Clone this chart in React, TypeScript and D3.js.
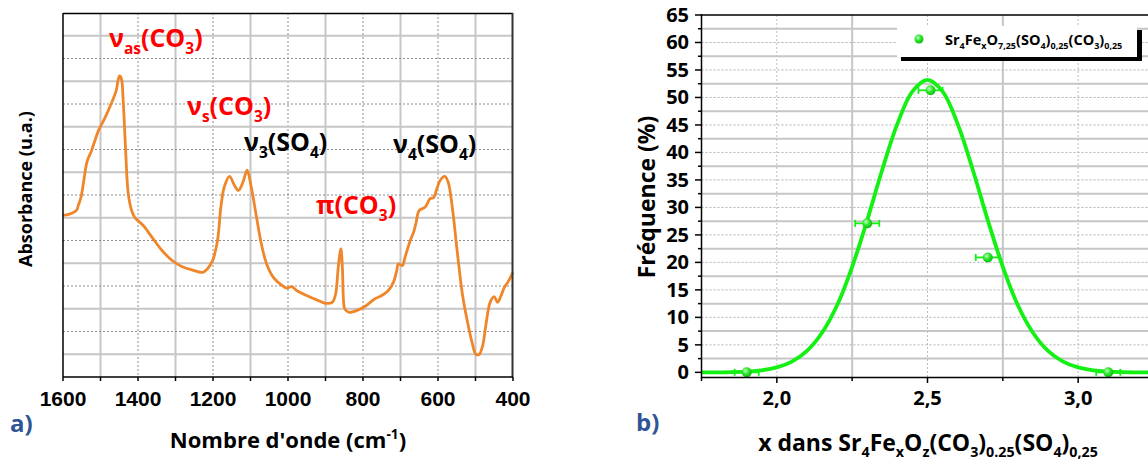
import React from "react";
import * as d3 from "d3";

// ---------- Panel a) : IR spectrum ----------
const specWavenumber = [
  1600, 1579, 1563, 1560, 1552, 1543, 1536, 1525, 1516, 1505, 1498, 1485, 1471, 1458, 1453, 1449, 1444, 1440,
  1433, 1426, 1417, 1408, 1386, 1363, 1336, 1309, 1282, 1255, 1228, 1215, 1201, 1188, 1179, 1170, 1156, 1143,
  1132, 1120, 1109, 1098, 1084, 1071, 1057, 1039, 1021, 1003, 990, 976, 949, 922, 900, 882, 873, 866, 859, 855,
  850, 846, 837, 814, 792, 769, 751, 733, 719, 710, 706, 695, 688, 674, 665, 659, 650, 634, 621, 612, 603, 594,
  582, 573, 562, 549, 535, 522, 508, 499, 490, 481, 472, 461, 450, 441, 432, 423, 414, 400,
];
const specAbsorbance = [
  7.1, 7.18, 7.35, 7.5, 7.9, 8.8, 9.46, 9.9, 10.34, 10.85, 11.07, 11.5, 12.03, 12.6, 13.06, 13.24, 13.1, 12.3,
  9.97, 8.06, 7.32, 7.0, 6.66, 6.15, 5.56, 5.12, 4.85, 4.7, 4.6, 4.75, 5.12, 6.0, 7.47, 8.35, 8.82, 8.43,
  8.2, 8.57, 9.09, 8.35, 7.03, 5.85, 4.97, 4.38, 4.09, 3.91, 3.97, 3.79, 3.57, 3.38, 3.24, 3.28, 3.65, 4.82, 5.63, 4.82,
  3.06, 2.94, 2.84, 2.94, 3.13, 3.43, 3.57, 3.79, 4.16, 4.68, 4.97, 4.9, 5.26, 6.0, 6.37, 6.74, 7.32, 7.47, 7.84, 7.88, 8.28, 8.65,
  8.82, 8.57, 7.47, 5.56, 3.65, 2.47, 1.44, 1.0, 1.0, 1.37, 2.32, 3.28, 3.53, 3.28, 3.57, 3.94, 4.16, 4.6,
];
const specTicks = [1600, 1400, 1200, 1000, 800, 600, 400];

// ---------- Panel b) : distribution ----------
const pointX = [1.9, 2.3, 2.51, 2.7, 3.1];
const pointY = [0, 27.1, 51.3, 20.9, 0];
const pointErrX = [0.04, 0.04, 0.04, 0.04, 0.04];
const fitX = [1.75, 1.85, 1.95, 2.0, 2.05, 2.1, 2.15, 2.2, 2.25, 2.3, 2.35, 2.4, 2.45, 2.5, 2.55, 2.6, 2.65, 2.7, 2.75, 2.8, 2.85, 2.9, 2.95, 3.0, 3.05, 3.15, 3.25];
const fitY = [0.0, 0.05, 0.38, 0.9, 1.95, 3.9, 7.2, 12.2, 19.2, 27.7, 36.9, 45.2, 51.1, 53.2, 51.1, 45.2, 36.9, 27.7, 19.2, 12.2, 7.2, 3.9, 1.95, 0.9, 0.38, 0.05, 0.0];
const freqTicks = [0, 5, 10, 15, 20, 25, 30, 35, 40, 45, 50, 55, 60, 65];
const xTicksB = [2.0, 2.5, 3.0];

const CAL = "'Open Sans', 'DejaVu Sans', sans-serif";
const ARIAL = "'Liberation Sans', Arial, sans-serif";

type Part = { t: string; s?: "sub" | "sup" };
function Rich({ x, y, parts, size, fill = "#000", anchor = "start", family = CAL, transform }: any) {
  const subSize = size * 0.62;
  const sub = size * 0.28;
  const sup = -size * 0.4;
  let cur = 0;
  const spans = (parts as Part[]).map((p, i) => {
    const target = p.s === "sub" ? sub : p.s === "sup" ? sup : 0;
    const dy = target - cur;
    cur = target;
    return (
      <tspan key={i} dy={dy} fontSize={p.s ? subSize : size}>
        {p.t}
      </tspan>
    );
  });
  return (
    <text x={x} y={y} fill={fill} textAnchor={anchor} fontFamily={family} fontWeight="bold" fontSize={size} transform={transform}>
      {spans}
    </text>
  );
}

export default function App() {
  // scales panel a
  const xL = d3.scaleLinear().domain([1600, 400]).range([63, 513]);
  const yL = d3.scaleLinear().domain([0, 16]).range([377, 13]);
  // scales panel b
  const xR = d3.scaleLinear().domain([1.75, 3.25]).range([701.5, 1153.5]);
  const yR = d3.scaleLinear().domain([-0.9, 65]).range([377.3, 15]);

  const specLine = d3
    .line<number>()
    .x((_, i) => xL(specWavenumber[i]))
    .y((d) => yL(d))
    .curve(d3.curveCatmullRom.alpha(0.5));
  const fitLine = d3
    .line<number>()
    .x((_, i) => xR(fitX[i]))
    .y((d) => yR(d))
    .curve(d3.curveCatmullRom.alpha(0.5));

  const gridSolid = "#c6c6c6";
  const gridDot = "#8c8c8c";

  const vGridL = d3.range(1500, 400, -100);
  const hGridL = d3.range(1, 16);
  const hGridR = d3.range(2.5, 65, 2.5);
  const vGridR = [2.0, 2.25, 2.5, 2.75, 3.0];

  const green = "#14f014";

  return (
    <svg width={1148} height={461} style={{ position: "absolute", left: 0, top: 0, background: "#fff" }}>
      <defs>
        <radialGradient id="ball" cx="0.38" cy="0.35" r="0.7">
          <stop offset="0" stopColor="#c8ffc8" />
          <stop offset="0.45" stopColor="#2ee82e" />
          <stop offset="1" stopColor="#08b808" />
        </radialGradient>
        <clipPath id="clipR">
          <rect x={701} y={0} width={447} height={380} />
        </clipPath>
      </defs>

      {/* ================= Panel a ================= */}
      {vGridL.map((v) => {
        const solid = (v / 100) % 2 === 1;
        return (
          <line key={"vl" + v} x1={xL(v)} x2={xL(v)} y1={13} y2={377}
            stroke={solid ? gridSolid : gridDot} strokeWidth={solid ? 2 : 1}
            strokeDasharray={solid ? undefined : "2,2"} />
        );
      })}
      {hGridL.map((v) => {
        const solid = v % 2 === 1;
        return (
          <line key={"hl" + v} x1={63} x2={513} y1={yL(v)} y2={yL(v)}
            stroke={solid ? gridSolid : gridDot} strokeWidth={solid ? 2 : 1}
            strokeDasharray={solid ? undefined : "2,2"} />
        );
      })}
      <path d={specLine(specAbsorbance) || ""} fill="none" stroke="#f0862a" strokeWidth={2.8} strokeLinejoin="round" />
      {/* frame */}
      <line x1={63} x2={513} y1={13.5} y2={13.5} stroke="#000" strokeWidth={1.5} />
      <line x1={512.5} x2={512.5} y1={13} y2={377} stroke="#333" strokeWidth={2} />
      <line x1={63} x2={63} y1={13} y2={377} stroke="#000" strokeWidth={1.5} />
      <line x1={63} x2={513} y1={377} y2={377} stroke="#000" strokeWidth={1.5} />
      {d3.range(1600, 399, -100).map((v) => (
        <line key={"tl" + v} x1={xL(v)} x2={xL(v)} y1={377} y2={381} stroke="#000" strokeWidth={1.5} />
      ))}
      {specTicks.map((v) => (
        <text key={"lt" + v} x={xL(v)} y={406} textAnchor="middle" fontFamily={ARIAL} fontWeight="bold" fontSize={21}>
          {v}
        </text>
      ))}
      <Rich x={288} y={448} anchor="middle" size={22}
        parts={[{ t: "Nombre d'onde (cm" }, { t: "-1", s: "sup" }, { t: ")" }]} />
      <Rich x={0} y={0} anchor="middle" size={18} transform="translate(32,189) rotate(-90)"
        parts={[{ t: "Absorbance (u.a.)" }]} />
      <text x={10} y={432} fontFamily={CAL} fontWeight="bold" fontSize={24} fill="#2f5597">a)</text>

      {/* annotations */}
      <Rich x={109} y={47} size={25} fill="#ff0000" parts={[{ t: "ν" }, { t: "as", s: "sub" }, { t: "(CO" }, { t: "3", s: "sub" }, { t: ")" }]} />
      <Rich x={187} y={115} size={25} fill="#ff0000" parts={[{ t: "ν" }, { t: "s", s: "sub" }, { t: "(CO" }, { t: "3", s: "sub" }, { t: ")" }]} />
      <Rich x={244} y={151} size={25} fill="#000" parts={[{ t: "ν" }, { t: "3", s: "sub" }, { t: "(SO" }, { t: "4", s: "sub" }, { t: ")" }]} />
      <Rich x={393} y={153} size={25} fill="#000" parts={[{ t: "ν" }, { t: "4", s: "sub" }, { t: "(SO" }, { t: "4", s: "sub" }, { t: ")" }]} />
      <Rich x={316} y={214} size={25} fill="#ff0000" parts={[{ t: "π(CO" }, { t: "3", s: "sub" }, { t: ")" }]} />

      {/* ================= Panel b ================= */}
      {vGridR.map((v) => {
        const solid = v === 2.25 || v === 2.75;
        return (
          <line key={"vr" + v} x1={xR(v)} x2={xR(v)} y1={15} y2={377}
            stroke={solid ? gridSolid : "#bdbdbd"} strokeWidth={solid ? 2 : 1}
            strokeDasharray={solid ? undefined : "2,2"} />
        );
      })}
      {hGridR.map((v) => {
        const solid = Math.abs((v % 5) - 2.5) < 1e-6;
        return (
          <line key={"hr" + v} x1={701.5} x2={1148} y1={yR(v)} y2={yR(v)}
            stroke={solid ? gridSolid : "#b0b0b0"} strokeWidth={solid ? 2 : 1}
            strokeDasharray={solid ? undefined : "2,2"} />
        );
      })}
      {/* legend */}
      <rect x={901} y={30} width={241} height={31} fill="#000" />
      <rect x={897} y={26} width={240} height={31} fill="#fff" />
      <circle cx={919} cy={39} r={4.5} fill="url(#ball)" />
      <Rich x={945} y={45} size={14.5} fill="#000"
        parts={[{ t: "Sr" }, { t: "4", s: "sub" }, { t: "Fe" }, { t: "x", s: "sub" }, { t: "O" }, { t: "7,25", s: "sub" },
          { t: "(SO" }, { t: "4", s: "sub" }, { t: ")" }, { t: "0,25", s: "sub" }, { t: "(CO" }, { t: "3", s: "sub" }, { t: ")" }, { t: "0,25", s: "sub" }]} />

      <g clipPath="url(#clipR)">
        <path d={fitLine(fitY) || ""} fill="none" stroke={green} strokeWidth={3.8} />
        {pointX.map((px, i) => {
          const cx = xR(px);
          const cy = yR(pointY[i]);
          const x1 = xR(px - pointErrX[i]);
          const x2 = xR(px + pointErrX[i]);
          return (
            <g key={"p" + i}>
              <line x1={x1} x2={x2} y1={cy} y2={cy} stroke={green} strokeWidth={1.8} />
              <line x1={x1} x2={x1} y1={cy - 3.5} y2={cy + 3.5} stroke={green} strokeWidth={1.8} />
              <line x1={x2} x2={x2} y1={cy - 3.5} y2={cy + 3.5} stroke={green} strokeWidth={1.8} />
              <circle cx={cx} cy={cy} r={5} fill="url(#ball)" />
            </g>
          );
        })}
      </g>
      {/* axes */}
      <line x1={701.5} x2={1148} y1={15} y2={15} stroke="#000" strokeWidth={1.5} />
      <line x1={701.5} x2={701.5} y1={14} y2={378} stroke="#000" strokeWidth={1.5} />
      <line x1={701} x2={1148} y1={377.5} y2={377.5} stroke="#000" strokeWidth={1.5} />
      {freqTicks.map((v) => (
        <g key={"yt" + v}>
          <line x1={695} x2={701.5} y1={yR(v)} y2={yR(v)} stroke="#000" strokeWidth={1.5} />
          <text x={689} y={yR(v) + 7} textAnchor="end" fontFamily={CAL} fontWeight="bold" fontSize={20}>
            {v}
          </text>
        </g>
      ))}
      {freqTicks.slice(0, -1).map((v) => (
        <line key={"ym" + v} x1={698} x2={701.5} y1={yR(v + 2.5)} y2={yR(v + 2.5)} stroke="#000" strokeWidth={1.5} />
      ))}
      {[1.75, 2.0, 2.25, 2.5, 2.75, 3.0].map((v) => {
        const major = v === 2.0 || v === 2.5 || v === 3.0;
        return <line key={"xt" + v} x1={xR(v)} x2={xR(v)} y1={377.5} y2={major ? 383 : 381} stroke="#000" strokeWidth={1.5} />;
      })}
      {xTicksB.map((v) => (
        <text key={"xl" + v} x={xR(v)} y={405} textAnchor="middle" fontFamily={CAL} fontWeight="bold" fontSize={20}>
          {d3.format(".1f")(v).replace(".", ",")}
        </text>
      ))}
      <Rich x={0} y={0} anchor="middle" size={23} transform="translate(655,197) rotate(-90)" parts={[{ t: "Fréquence (%)" }]} />
      <Rich x={928} y={451} anchor="middle" size={23}
        parts={[{ t: "x dans Sr" }, { t: "4", s: "sub" }, { t: "Fe" }, { t: "x", s: "sub" }, { t: "O" }, { t: "z", s: "sub" },
          { t: "(CO" }, { t: "3", s: "sub" }, { t: ")" }, { t: "0.25", s: "sub" }, { t: "(SO" }, { t: "4", s: "sub" }, { t: ")" }, { t: "0,25", s: "sub" }]} />
      <text x={636} y={431} fontFamily={CAL} fontWeight="bold" fontSize={24} fill="#2f5597">b)</text>
    </svg>
  );
}
